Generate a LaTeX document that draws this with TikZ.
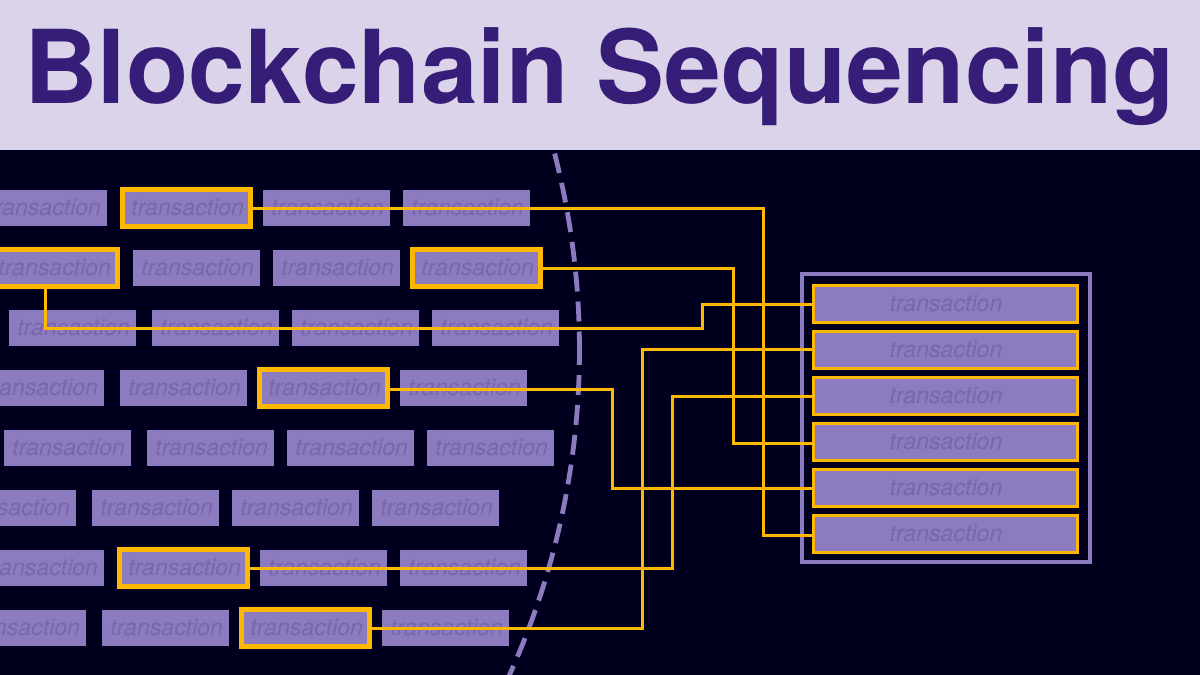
\documentclass[tikz,border=0pt]{standalone}
\usepackage{fontspec}
\setmainfont{TeX Gyre Heros}
\definecolor{night}{HTML}{00001E}
\definecolor{headbg}{HTML}{DBD3EA}
\definecolor{headfg}{HTML}{361D78}
\definecolor{boxfill}{HTML}{8C7BBF}
\definecolor{boxtext}{HTML}{7866AE}
\definecolor{gold}{HTML}{FFB800}
\tikzset{
  tx/.style={rectangle,fill=boxfill,text=boxtext,inner sep=0pt,outer sep=0pt,minimum width=127pt,minimum height=36pt,text depth=2pt,execute at begin node={\hskip 2.5pt},font=\fontsize{23.1}{28}\selectfont\itshape},
  hi/.style={draw=gold,line width=5pt,minimum width=128pt,minimum height=37pt},
  seq/.style={rectangle,fill=boxfill,draw=gold,line width=3pt,text=boxtext,inner sep=0pt,outer sep=0pt,minimum width=264pt,minimum height=37pt,text depth=2pt,execute at begin node={\hskip 1pt},font=\fontsize{23.1}{28}\selectfont\itshape},
  link/.style={draw=gold,line width=3pt,line join=miter},
  curve/.style={draw=boxfill,line width=4.8pt,dash pattern=on 20pt off 10pt},
}
\begin{document}
\begin{tikzpicture}[x=1pt,y=-1pt]
\useasboundingbox (0,0) rectangle (1200,675);
\clip (0,0) rectangle (1200,675);
\fill[night] (0,0) rectangle (1200,675);
\fill[headbg] (0,0) rectangle (1200,150);
\node[anchor=base west,inner sep=0pt,text=headfg,font=\fontsize{101.9}{120}\selectfont\bfseries] (title) at (24,103) {Blockchain Sequencing};
% dashed arc: two halves that start near the middle
\draw[curve,shift={(-209.5,350)}] (-0.109:789pt) arc (-0.109:14.46:789pt);
\draw[curve,shift={(-209.5,350)}] (0.363:789pt) arc (0.363:-25:789pt);
% transaction rows
\node[tx] (t11) at (43.5,208) {transaction};
\node[tx,hi] (t12) at (186.5,208) {transaction};
\node[tx] (t13) at (326.5,208) {transaction};
\node[tx] (t14) at (466.5,208) {transaction};
\node[tx,hi] (t21) at (53.5,268) {transaction};
\node[tx] (t22) at (196.5,268) {transaction};
\node[tx] (t23) at (336.5,268) {transaction};
\node[tx,hi] (t24) at (476.5,268) {transaction};
\node[tx] (t31) at (72.5,328) {transaction};
\node[tx] (t32) at (215.5,328) {transaction};
\node[tx] (t33) at (355.5,328) {transaction};
\node[tx] (t34) at (495.5,328) {transaction};
\node[tx] (t41) at (40.5,388) {transaction};
\node[tx] (t42) at (183.5,388) {transaction};
\node[tx,hi] (t43) at (323.5,388) {transaction};
\node[tx] (t44) at (463.5,388) {transaction};
\node[tx] (t51) at (67.5,448) {transaction};
\node[tx] (t52) at (210.5,448) {transaction};
\node[tx] (t53) at (350.5,448) {transaction};
\node[tx] (t54) at (490.5,448) {transaction};
\node[tx] (t61) at (12.5,508) {transaction};
\node[tx] (t62) at (155.5,508) {transaction};
\node[tx] (t63) at (295.5,508) {transaction};
\node[tx] (t64) at (435.5,508) {transaction};
\node[tx] (t71) at (40.5,568) {transaction};
\node[tx,hi] (t72) at (183.5,568) {transaction};
\node[tx] (t73) at (323.5,568) {transaction};
\node[tx] (t74) at (463.5,568) {transaction};
\node[tx] (t81) at (22.5,628) {transaction};
\node[tx] (t82) at (165.5,628) {transaction};
\node[tx,hi] (t83) at (305.5,628) {transaction};
\node[tx] (t84) at (445.5,628) {transaction};
% sequenced frame
\node[rectangle,draw=boxfill,line width=4pt,inner sep=0pt,outer sep=0pt,minimum width=288pt,minimum height=288pt] (frame) at (946,418) {};
\node[seq] (r1) at (945.5,304) {transaction};
\node[seq] (r2) at (945.5,350) {transaction};
\node[seq] (r3) at (945.5,396) {transaction};
\node[seq] (r4) at (945.5,442) {transaction};
\node[seq] (r5) at (945.5,488) {transaction};
\node[seq] (r6) at (945.5,534) {transaction};
% routing points
\coordinate (a1) at (763,535);
\coordinate (a2) at (733,443);
\coordinate (a3) at (45,328);
\coordinate (a4) at (702,304);
\coordinate (a5) at (612,488);
\coordinate (a6) at (672,396.5);
\coordinate (a7) at (642,349.5);
\coordinate (b5) at (0,389.5);
% connectors
\draw[link] (t12.east) -| (a1) -- (a1 -| r6.west);
\draw[link] (t24.east) -| (a2) -- (a2 -| r4.west);
\draw[link] (t21.south -| a3) -- (a3) -| (a4) -- (r1.west);
\draw[link] (t43.east |- b5) -| (a5) -- (r5.west);
\draw[link] (t72.east) -| (a6) -- (a6 -| r3.west);
\draw[link] (t83.east) -| (a7) -- (a7 -| r2.west);
\end{tikzpicture}
\end{document}
